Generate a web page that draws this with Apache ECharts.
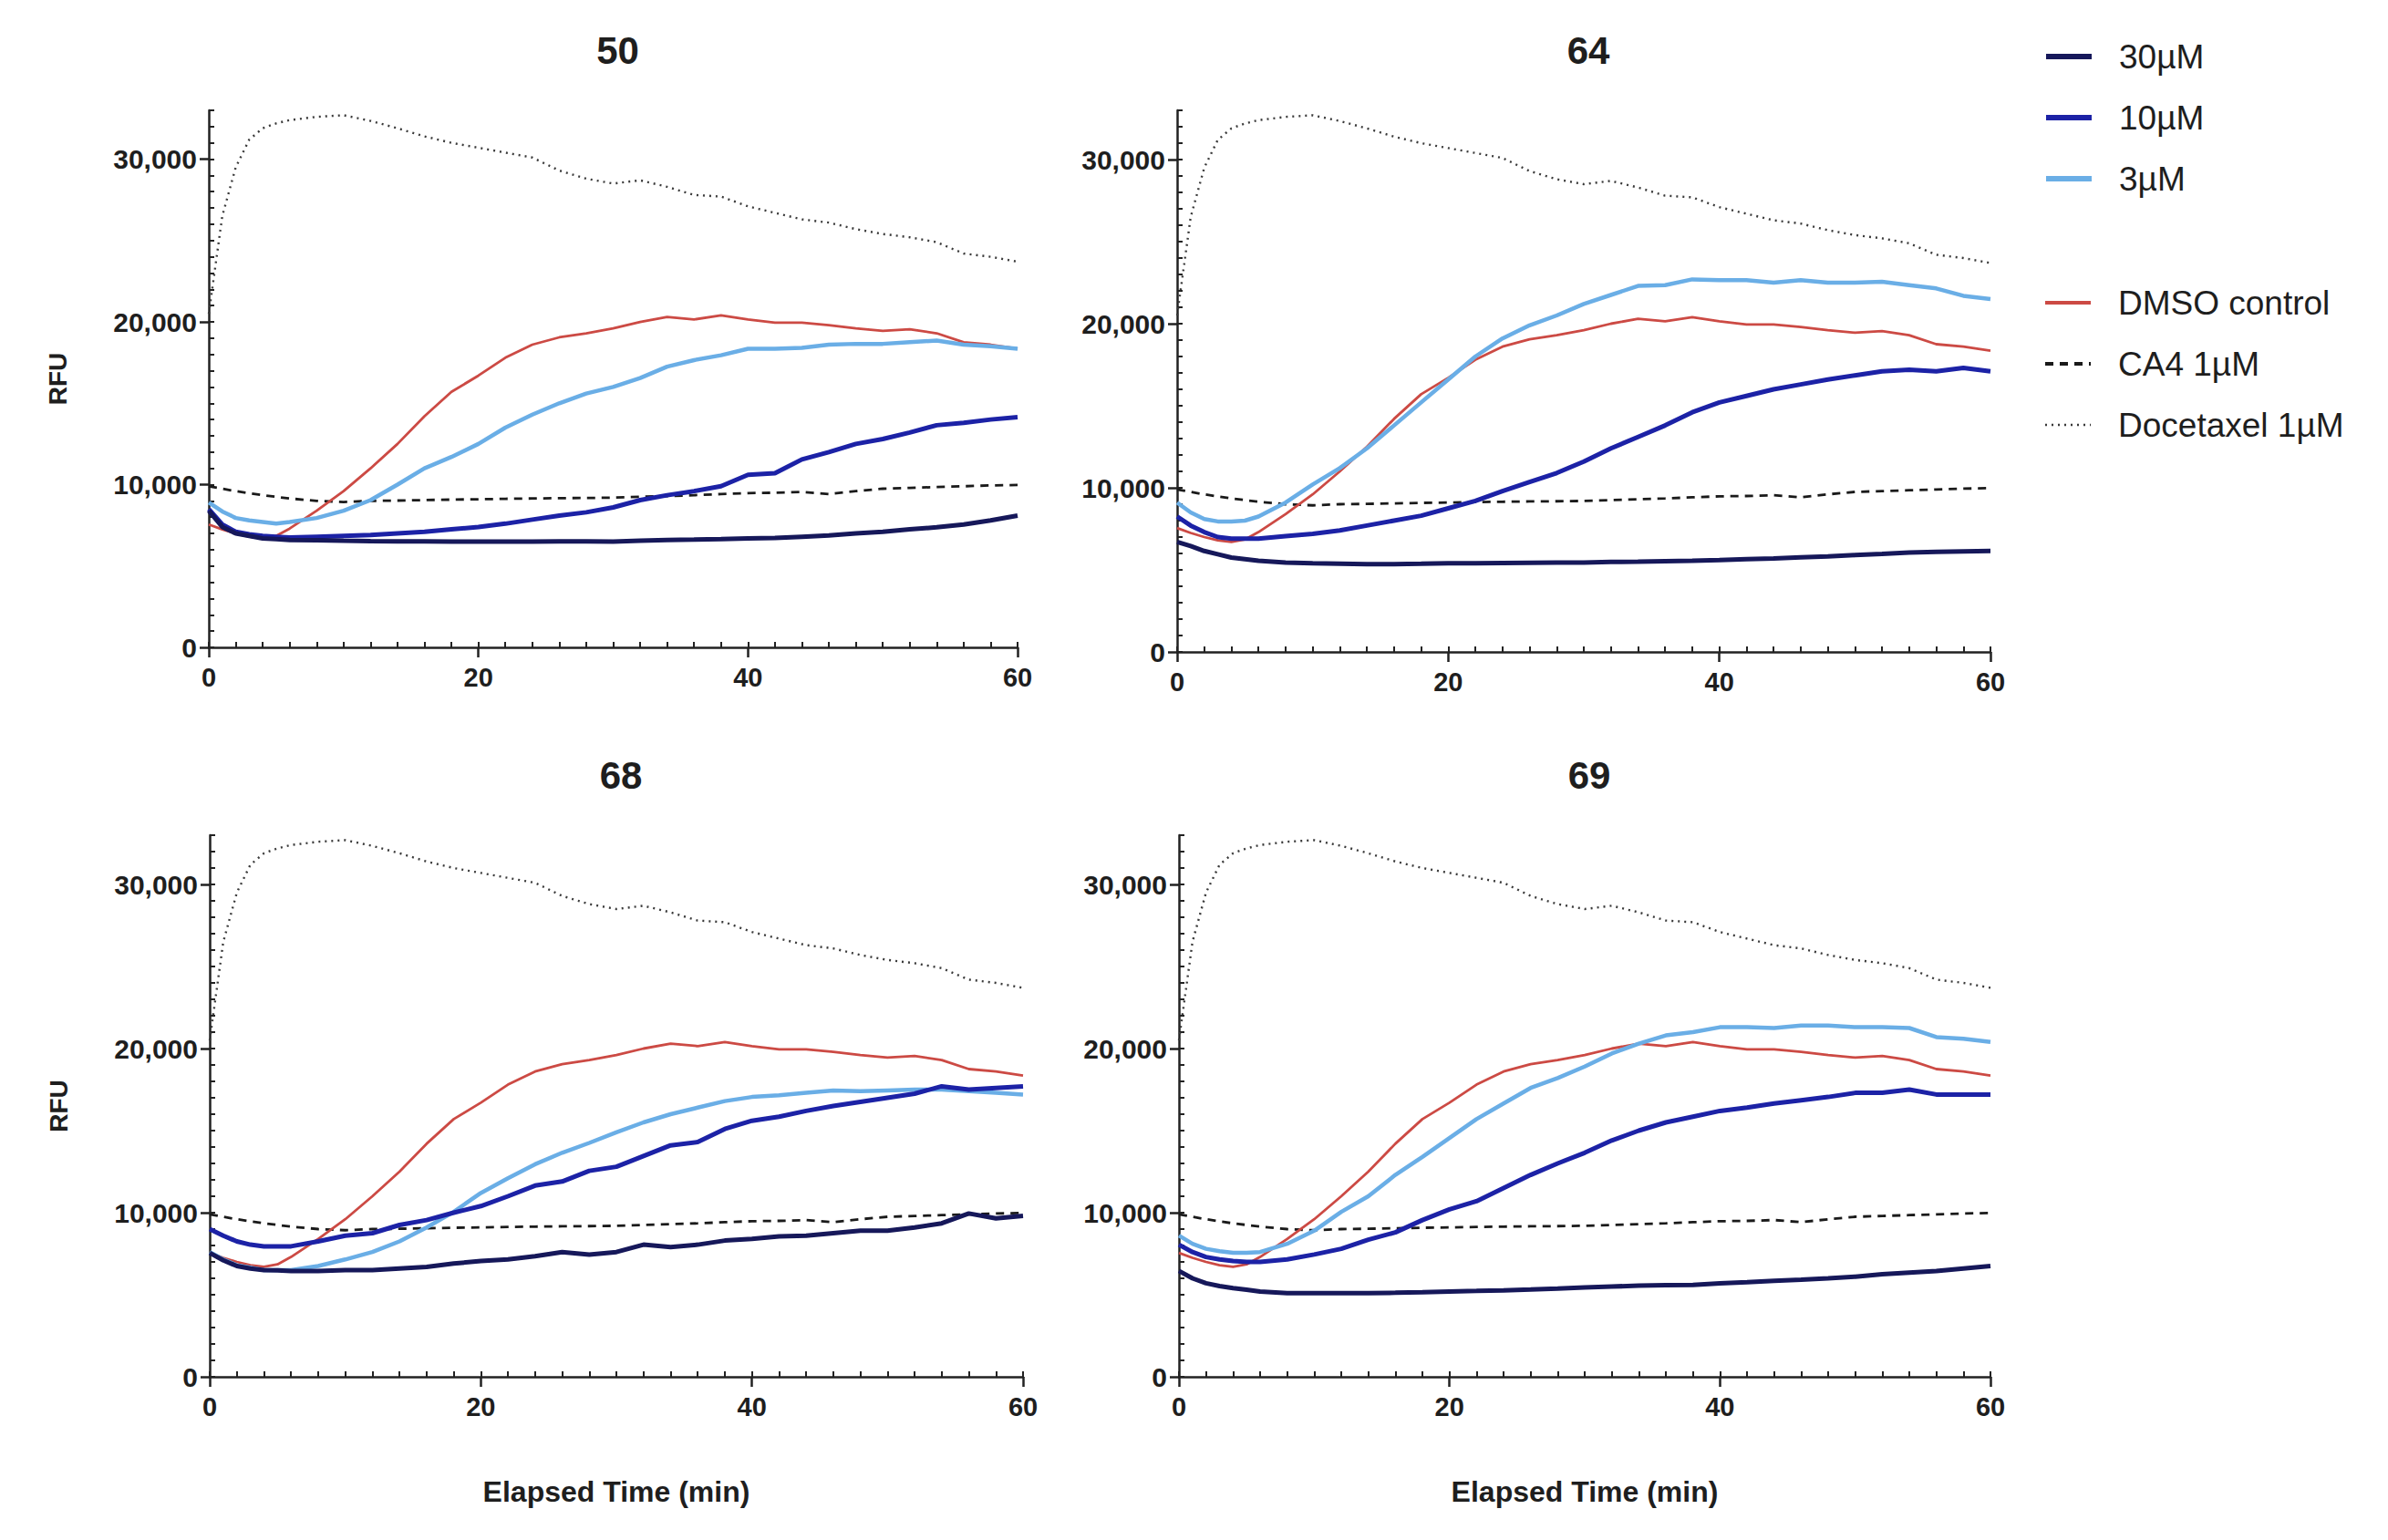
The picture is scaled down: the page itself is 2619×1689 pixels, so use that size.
<!DOCTYPE html>
<html><head><meta charset="utf-8">
<script src="https://cdn.jsdelivr.net/npm/echarts@6/dist/echarts.min.js"></script>
<style>html,body{margin:0;padding:0;background:#fff}#c{width:2619px;height:1689px}</style>
</head><body><div id="c"></div>
<script>
// Elapsed time (min)
const times = [0,1,2,3,4,5,6,8,10,12,14,16,18,20,22,24,26,28,30,32,34,36,38,40,42,44,46,48,50,52,54,56,58,60];
const panelTitles = ['50','64','68','69'];
const seriesNames = ['30µM','10µM','3µM','DMSO control','CA4 1µM','Docetaxel 1µM'];
const xTicks = [0,20,40,60];
const yTicks = [0,10000,20000,30000];

// shared controls (RFU)
const dmso = [7550,7250,7000,6800,6700,6850,7300,8400,9600,11000,12500,14200,15700,16700,17800,18600,19050,19300,19600,20000,20300,20150,20400,20150,19950,19950,19800,19600,19450,19550,19300,18750,18600,18350];
const ca4 = [9900,9750,9600,9470,9350,9250,9150,9000,8930,9000,9020,9050,9080,9100,9130,9150,9170,9180,9200,9250,9300,9350,9420,9480,9500,9550,9420,9600,9750,9800,9850,9900,9950,9980];
const docetaxel = [20500,26500,29500,31200,31900,32200,32400,32600,32700,32350,31900,31400,31000,30700,30400,30100,29300,28800,28500,28700,28300,27800,27700,27100,26700,26300,26100,25700,25400,25200,24900,24200,24000,23700];

// compound 50
const c50_30 = [8400,7400,7000,6850,6700,6650,6600,6580,6550,6530,6520,6510,6500,6500,6500,6500,6510,6510,6500,6550,6600,6620,6650,6700,6720,6800,6880,7000,7100,7250,7380,7550,7800,8100];
const c50_10 = [8500,7550,7100,6950,6850,6800,6750,6800,6850,6900,7000,7100,7250,7400,7600,7850,8100,8300,8600,9050,9350,9600,9900,10600,10700,11550,12000,12500,12800,13200,13650,13800,14000,14150];
const c50_3 = [8900,8350,7950,7800,7700,7600,7700,7950,8400,9050,10000,11000,11700,12500,13500,14300,15000,15600,16000,16550,17250,17650,17950,18350,18350,18400,18600,18650,18650,18750,18850,18600,18500,18350];
// compound 64
const c64_30 = [6700,6450,6150,5950,5750,5650,5550,5450,5400,5380,5350,5350,5370,5400,5400,5420,5430,5440,5450,5480,5500,5530,5560,5600,5650,5700,5760,5820,5900,5970,6050,6100,6130,6150];
const c64_10 = [8250,7700,7300,7000,6900,6900,6900,7050,7200,7400,7700,8000,8300,8750,9200,9800,10350,10900,11600,12400,13100,13800,14600,15200,15600,16000,16300,16600,16850,17100,17200,17100,17300,17100];
const c64_3 = [9100,8500,8100,7950,7950,8000,8250,9100,10200,11200,12400,13800,15200,16600,18000,19100,19900,20500,21200,21750,22300,22350,22700,22650,22650,22500,22650,22500,22500,22550,22350,22150,21700,21500];
// compound 68
const c68_30 = [7550,7100,6750,6600,6500,6480,6450,6450,6500,6500,6600,6700,6900,7050,7150,7350,7600,7450,7600,8050,7900,8050,8300,8400,8550,8600,8750,8900,8900,9100,9350,9950,9650,9800];
const c68_10 = [9000,8600,8250,8050,7950,7950,7950,8250,8600,8750,9250,9550,10000,10400,11000,11650,11900,12550,12800,13450,14100,14300,15100,15600,15850,16200,16500,16750,17000,17250,17700,17500,17600,17700];
const c68_3 = [7600,7150,6800,6650,6500,6500,6500,6750,7150,7600,8250,9100,10050,11200,12100,12950,13650,14250,14900,15500,16000,16400,16800,17050,17150,17300,17450,17400,17450,17500,17500,17400,17300,17200];
// compound 69
const c69_30 = [6450,6000,5700,5530,5400,5300,5200,5100,5100,5100,5100,5120,5150,5200,5230,5270,5320,5380,5450,5500,5550,5580,5600,5700,5770,5850,5920,6000,6100,6250,6350,6450,6600,6750];
const c69_10 = [8050,7600,7300,7150,7050,7000,7000,7150,7450,7800,8350,8800,9550,10200,10700,11500,12300,13000,13650,14400,15000,15500,15850,16200,16400,16650,16850,17050,17300,17300,17500,17200,17200,17200];
const c69_3 = [8600,8100,7800,7650,7550,7550,7600,8100,8900,10050,11000,12300,13400,14550,15700,16650,17600,18200,18900,19700,20300,20800,21000,21300,21300,21250,21400,21400,21300,21300,21250,20700,20600,20400];

const panelData = [
  [c50_30, c50_10, c50_3],
  [c64_30, c64_10, c64_3],
  [c68_30, c68_10, c68_3],
  [c69_30, c69_10, c69_3]
];

const FONT = "'Liberation Sans', Arial, sans-serif";
const TXT = '#1e1e1e';
const grids = [
  {left: 229, top: 121, width: 887, height: 589},
  {left: 1291, top: 121, width: 892, height: 594},
  {left: 230, top: 916, width: 892, height: 594},
  {left: 1293, top: 916, width: 890, height: 594}
];
const styles = [
  {color: '#16185a', width: 5, type: 'solid', legendWidth: 6},
  {color: '#1c22a6', width: 5, type: 'solid', legendWidth: 6},
  {color: '#6aaee6', width: 4.5, type: 'solid', legendWidth: 6},
  {color: '#cc4a44', width: 2.8, type: 'solid', legendWidth: 4},
  {color: '#1a1a1a', width: 2.8, type: [9, 7], legendWidth: 4},
  {color: '#3a3a3a', width: 2.4, type: [2, 5], legendWidth: 2.6}
];

const xAxis = [], yAxis = [], series = [], title = [];
grids.forEach((g, i) => {
  const bottomRow = i >= 2, leftCol = i % 2 === 0;
  title.push({text: panelTitles[i], left: g.left + g.width / 2, top: g.top - 92, textAlign: 'center',
    textStyle: {fontFamily: FONT, fontWeight: 'bold', fontSize: 42, color: TXT}});
  xAxis.push({
    gridIndex: i, type: 'value', min: 0, max: 60, interval: 20,
    name: bottomRow ? 'Elapsed Time (min)' : '', nameLocation: 'middle', nameGap: 110,
    nameTextStyle: {fontFamily: FONT, fontWeight: 'bold', fontSize: 32, color: TXT},
    axisLine: {show: true, lineStyle: {color: '#222', width: 2.5}},
    axisTick: {show: true, length: 11, lineStyle: {color: '#222', width: 2.5}, customValues: xTicks},
    axisLabel: {show: true, margin: 18, fontFamily: FONT, fontWeight: 'bold', fontSize: 29, color: TXT, customValues: xTicks},
    splitLine: {show: false}
  });
  xAxis.push({
    gridIndex: i, type: 'value', min: 0, max: 60, interval: 2,
    axisLine: {show: false}, axisTick: {show: true, length: 6, lineStyle: {color: '#222', width: 2}},
    axisLabel: {show: false}, splitLine: {show: false}
  });
  yAxis.push({
    gridIndex: i, type: 'value', min: 0, max: 33000, interval: 10000,
    name: leftCol ? 'RFU' : '', nameLocation: 'middle', nameGap: 152,
    nameTextStyle: {fontFamily: FONT, fontWeight: 'bold', fontSize: 28, color: TXT},
    axisLine: {show: true, lineStyle: {color: '#222', width: 2.5}},
    axisTick: {show: true, length: 10, lineStyle: {color: '#222', width: 2.5}, customValues: yTicks},
    axisLabel: {show: true, margin: 13, fontFamily: FONT, fontWeight: 'bold', fontSize: 30, color: TXT,
      customValues: yTicks, formatter: v => Number(v).toLocaleString('en-US')},
    splitLine: {show: false}
  });
  yAxis.push({
    gridIndex: i, type: 'value', min: 0, max: 33000, interval: 1000,
    axisLine: {show: false}, axisTick: {show: true, length: 6, lineStyle: {color: '#222', width: 2}},
    axisLabel: {show: false}, splitLine: {show: false}
  });
  const vals = [panelData[i][0], panelData[i][1], panelData[i][2], dmso, ca4, docetaxel];
  const order = [5, 4, 3, 2, 1, 0];
  order.forEach(k => {
    series.push({
      name: seriesNames[k], type: 'line', xAxisIndex: 2 * i, yAxisIndex: 2 * i,
      data: times.map((t, j) => [t, vals[k][j]]),
      symbol: 'none', showSymbol: false, animation: false,
      color: styles[k].color,
      lineStyle: {color: styles[k].color, width: styles[k].width, type: styles[k].type}
    });
  });
});

const legendItem = k => ({
  name: seriesNames[k],
  lineStyle: {color: styles[k].color, width: styles[k].legendWidth, type: styles[k].type}
});
const legendBase = {
  orient: 'vertical', left: 2241, padding: 0, itemWidth: 50, itemHeight: 40, itemGap: 27,
  itemStyle: {opacity: 0},
  textStyle: {fontFamily: FONT, fontSize: 37, color: TXT, lineHeight: 40, padding: [0, 0, 0, 25]},
  selectedMode: false
};
const legend = [
  Object.assign({}, legendBase, {top: 42, data: [0, 1, 2].map(legendItem)}),
  Object.assign({}, legendBase, {top: 312, data: [3, 4, 5].map(legendItem)})
];

const chart = echarts.init(document.getElementById('c'), null, {renderer: 'svg'});
chart.setOption({backgroundColor: '#fff', animation: false, title, legend, grid: grids, xAxis, yAxis, series});
</script></body></html>
